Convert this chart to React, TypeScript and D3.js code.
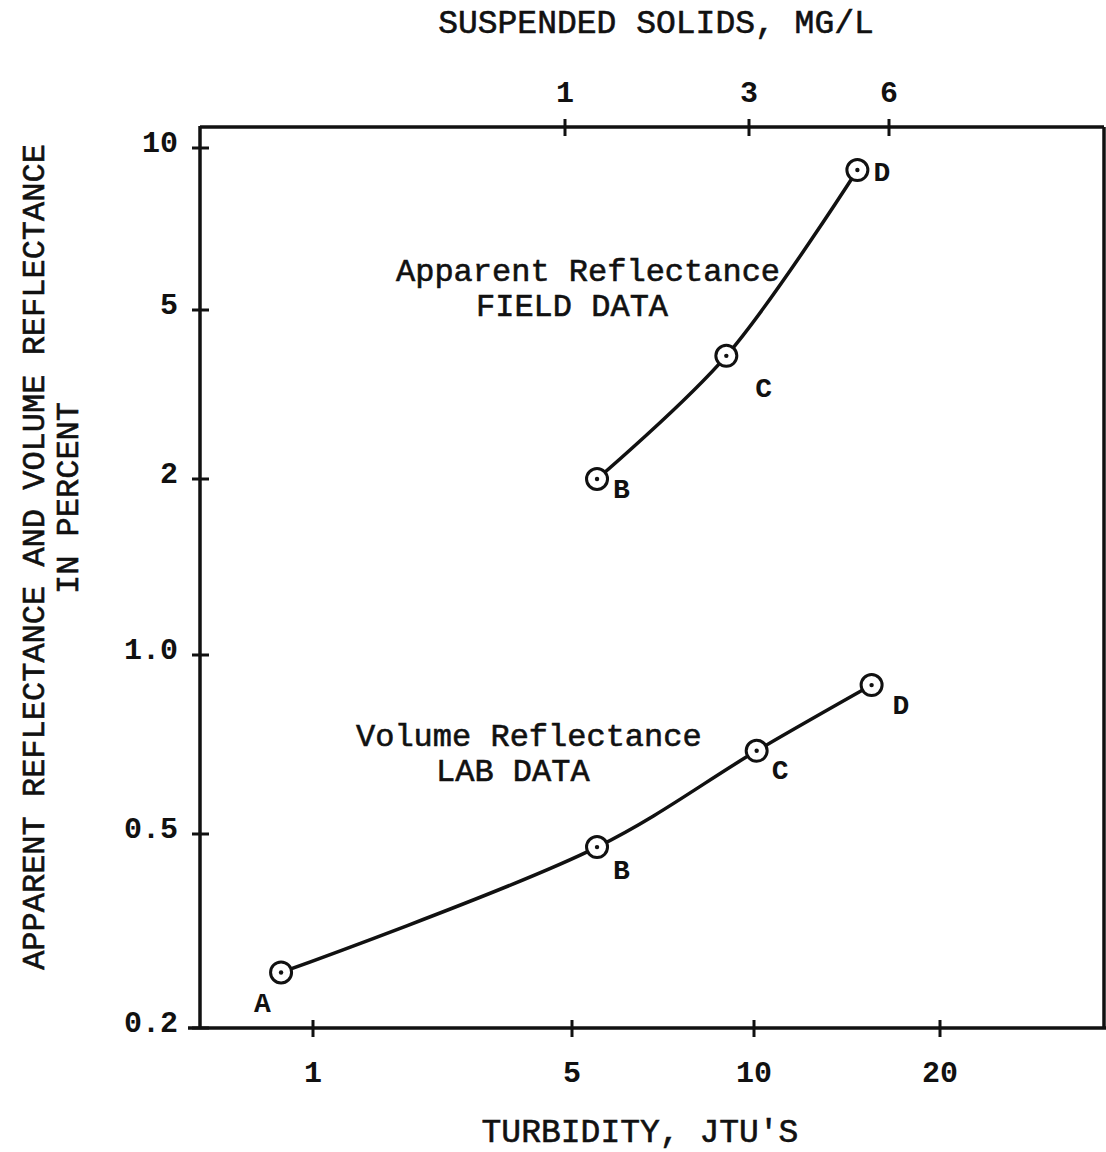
import { useMemo } from "react";
import * as d3 from "d3";

const WIDTH = 1106;
const HEIGHT = 1152;
const FONT = "'Liberation Mono', 'Courier New', 'DejaVu Sans Mono', monospace";

// axis ticks
const turbidityTicks = [1, 5, 10, 20];
const solidsTicks = [1, 3, 6];
const reflectanceTicks = [0.2, 0.5, 1.0, 2, 5, 10];
const reflectanceTickLabels = ["0.2", "0.5", "1.0", "2", "5", "10"];

// apparent reflectance - field data
const fieldPoints = ["B", "C", "D"];
const fieldTurbidity = [5.5, 9.0, 14.7];
const fieldReflectance = [2.0, 3.9, 9.1];

// volume reflectance - lab data
const labPoints = ["A", "B", "C", "D"];
const labTurbidity = [0.82, 5.5, 10.1, 15.5];
const labReflectance = [0.26, 0.47, 0.69, 0.89];

// where the hand drawn tick marks sit on the page (the original axes are not a clean log grid)
const X_STOPS = [313, 572, 754, 940];
const TOP_STOPS = [565, 749, 889];
const Y_STOPS = [1028, 834, 655, 479, 310, 148];

const FRAME = { left: 200, right: 1104, top: 127, bottom: 1028 };

// label offsets (dx, dy) from each point
const fieldLabelOffsets = [[16, 19], [29, 41], [16, 11]];
const labLabelOffsets = [[-27, 40], [16, 32], [15, 28], [21, 29]];

const App = () => {
    const log = Math.log10;

    // piecewise log scales fitted to the tick marks
    const xScale = useMemo(
        () => d3.scaleLinear().domain(turbidityTicks.map(log)).range(X_STOPS),
        []
    );
    const topScale = useMemo(
        () => d3.scaleLinear().domain(solidsTicks.map(log)).range(TOP_STOPS),
        []
    );
    const yScale = useMemo(
        () => d3.scaleLinear().domain(reflectanceTicks.map(log)).range(Y_STOPS),
        []
    );

    const line = d3
        .line<[number, number]>()
        .x((d) => xScale(log(d[0])))
        .y((d) => yScale(log(d[1])))
        .curve(d3.curveCatmullRom.alpha(0.5));

    const field = fieldTurbidity.map((t, i) => [t, fieldReflectance[i]] as [number, number]);
    const lab = labTurbidity.map((t, i) => [t, labReflectance[i]] as [number, number]);

    const marker = (d: [number, number], key: string) => (
        <g key={key} transform={`translate(${xScale(log(d[0]))},${yScale(log(d[1]))})`}>
            <circle r={10.5} fill="white" stroke="#111" strokeWidth={3} />
            <circle r={2.2} fill="#111" />
        </g>
    );

    const pointLabel = (d: [number, number], name: string, off: number[], key: string) => (
        <text
            key={key}
            x={xScale(log(d[0])) + off[0]}
            y={yScale(log(d[1])) + off[1]}
            fontSize={28}
            fontWeight="bold"
        >
            {name}
        </text>
    );

    // typewriter text is a bit heavier than the regular mono face
    const ink = { stroke: "#111", strokeWidth: 0.6 };

    return (
        <svg
            width={WIDTH}
            height={HEIGHT}
            style={{ position: "absolute", left: 0, top: 0, background: "white" }}
            fontFamily={FONT}
            fill="#111"
        >
            {/* frame */}
            <g stroke="#111" strokeWidth={3.5} fill="none">
                <line x1={FRAME.left} x2={FRAME.right} y1={FRAME.top} y2={FRAME.top} />
                <line x1={FRAME.left} x2={FRAME.left} y1={FRAME.top - 1} y2={FRAME.bottom} />
                <line x1={FRAME.right} x2={FRAME.right} y1={FRAME.top} y2={FRAME.bottom} />
                <line x1={188} x2={WIDTH} y1={FRAME.bottom} y2={FRAME.bottom} />
            </g>

            {/* bottom axis: turbidity */}
            {turbidityTicks.map((t) => (
                <g key={"b" + t} transform={`translate(${xScale(log(t))},${FRAME.bottom})`}>
                    <line y1={-8} y2={9} stroke="#111" strokeWidth={3} />
                    <text y={54} textAnchor="middle" fontSize={30} fontWeight="bold">
                        {t}
                    </text>
                </g>
            ))}
            <text x={640} y={1142} textAnchor="middle" fontSize={33} {...ink}>
                TURBIDITY, JTU'S
            </text>

            {/* top axis: suspended solids */}
            {solidsTicks.map((s) => (
                <g key={"t" + s} transform={`translate(${topScale(log(s))},${FRAME.top})`}>
                    <line y1={-8} y2={9} stroke="#111" strokeWidth={3} />
                    <text y={-25} textAnchor="middle" fontSize={30} fontWeight="bold">
                        {s}
                    </text>
                </g>
            ))}
            <text x={656} y={33} textAnchor="middle" fontSize={33} {...ink}>
                SUSPENDED SOLIDS, MG/L
            </text>

            {/* left axis: reflectance */}
            {reflectanceTicks.map((r, i) => (
                <g key={"l" + r} transform={`translate(${FRAME.left},${yScale(log(r))})`}>
                    <line x1={-8} x2={9} stroke="#111" strokeWidth={3} />
                    <text x={-22} y={4} textAnchor="end" fontSize={30} fontWeight="bold">
                        {reflectanceTickLabels[i]}
                    </text>
                </g>
            ))}
            <text
                transform="translate(44,557) rotate(-90)"
                textAnchor="middle"
                fontSize={32}
                {...ink}
            >
                APPARENT REFLECTANCE AND VOLUME REFLECTANCE
            </text>
            <text
                transform="translate(78,498) rotate(-90)"
                textAnchor="middle"
                fontSize={32}
                {...ink}
            >
                IN PERCENT
            </text>

            {/* curves */}
            <path d={line(field) ?? ""} fill="none" stroke="#111" strokeWidth={3.5} />
            <path d={line(lab) ?? ""} fill="none" stroke="#111" strokeWidth={3.5} />

            {field.map((d, i) => marker(d, "fm" + i))}
            {lab.map((d, i) => marker(d, "lm" + i))}
            {field.map((d, i) => pointLabel(d, fieldPoints[i], fieldLabelOffsets[i], "fl" + i))}
            {lab.map((d, i) => pointLabel(d, labPoints[i], labLabelOffsets[i], "ll" + i))}

            {/* curve captions */}
            <text x={396} y={281} fontSize={32} {...ink}>
                Apparent Reflectance
            </text>
            <text x={476} y={316} fontSize={32} {...ink}>
                FIELD DATA
            </text>
            <text x={356} y={746} fontSize={32} {...ink}>
                Volume Reflectance
            </text>
            <text x={436} y={781} fontSize={32} {...ink}>
                LAB DATA
            </text>
        </svg>
    );
};

export default App;
